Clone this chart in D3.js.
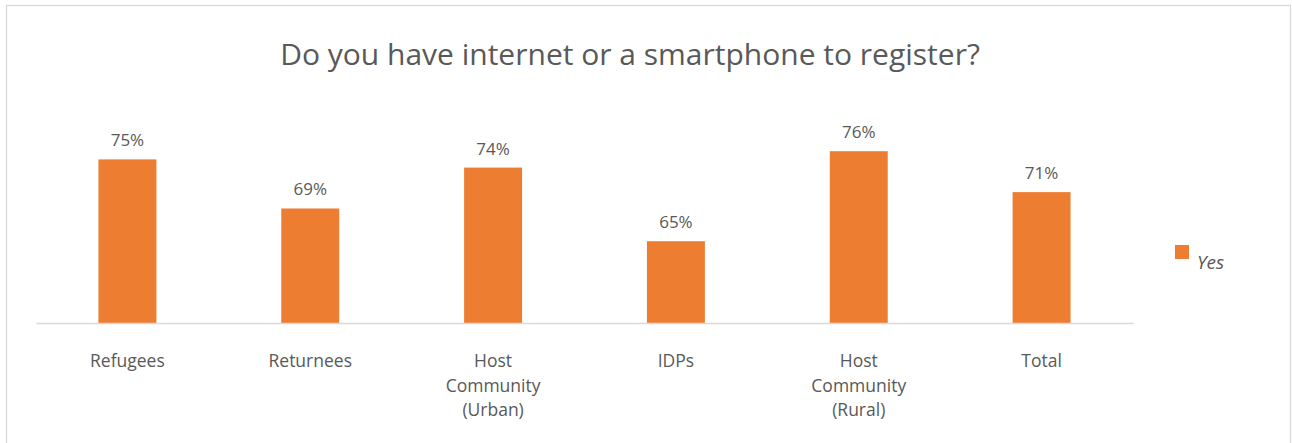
<!DOCTYPE html>
<html>
<head>
<meta charset="utf-8">
<script src="https://cdn.jsdelivr.net/npm/d3@7"></script>
<style>
  html, body { margin: 0; padding: 0; background: #fff; }
  svg { display: block; }
  text { font-family: "Open Sans", Lato, sans-serif; fill: #595959; }
</style>
</head>
<body>
<svg id="chart" width="1292" height="443"></svg>
<script>
const title = "Do you have internet or a smartphone to register?";
const categories = [
  ["Refugees"],
  ["Returnees"],
  ["Host", "Community", "(Urban)"],
  ["IDPs"],
  ["Host", "Community", "(Rural)"],
  ["Total"]
];
const yesValues = [0.75, 0.69, 0.74, 0.65, 0.76, 0.71];
const seriesName = "Yes";
const yDomain = [0.55, 0.80];

const svg = d3.select("#chart");
const plot = { left: 36, right: 1133, top: 118.5, bottom: 323 };
const orange = "#ED7D31";

// chart frame
svg.append("rect")
  .attr("x", 6.5).attr("y", 5.5)
  .attr("width", 1284).attr("height", 445)
  .attr("fill", "#fff").attr("stroke", "#d9d9d9").attr("stroke-width", 1.3);

const keys = categories.map(c => c.join(" "));
const x = d3.scaleBand().domain(keys).range([plot.left, plot.right]).paddingInner(0.683).paddingOuter(0.3415);
const y = d3.scaleLinear().domain(yDomain).range([plot.bottom, plot.top]);

// title
svg.append("text")
  .attr("x", 630).attr("y", 65)
  .attr("text-anchor", "middle")
  .style("font-size", "30px")
  .text(title);

// bars
svg.append("g").selectAll("rect")
  .data(yesValues)
  .join("rect")
  .attr("x", (d, i) => x(keys[i]))
  .attr("width", x.bandwidth())
  .attr("y", d => y(d))
  .attr("height", d => y(yDomain[0]) - y(d))
  .attr("fill", orange);

// data labels
svg.append("g").selectAll("text")
  .data(yesValues)
  .join("text")
  .attr("x", (d, i) => x(keys[i]) + x.bandwidth() / 2)
  .attr("y", d => y(d) - 13)
  .attr("text-anchor", "middle")
  .style("font-size", "17px")
  .text(d => d3.format(".0%")(d));

// x axis
const xAxis = d3.axisBottom(x).tickSize(0).tickFormat("");
const gx = svg.append("g").attr("transform", `translate(0,${plot.bottom})`).call(xAxis);
gx.select(".domain").attr("stroke", "#d9d9d9").attr("stroke-width", 1.5);

// category labels
const lab = svg.append("g").selectAll("text")
  .data(categories)
  .join("text")
  .attr("x", (d, i) => x(keys[i]) + x.bandwidth() / 2)
  .attr("y", 367)
  .attr("text-anchor", "middle")
  .style("font-size", "17.5px");
lab.selectAll("tspan")
  .data(d => d)
  .join("tspan")
  .attr("x", function() { return this.parentNode.getAttribute("x"); })
  .attr("dy", (d, i) => i === 0 ? 0 : 24.5)
  .text(d => d);

// legend
const lg = svg.append("g").attr("transform", "translate(1175,245)");
lg.append("rect").attr("width", 14).attr("height", 14).attr("fill", orange);
lg.append("text").attr("x", 22).attr("y", 24)
  .style("font-size", "19px").style("font-style", "italic")
  .text(seriesName);
</script>
</body>
</html>
